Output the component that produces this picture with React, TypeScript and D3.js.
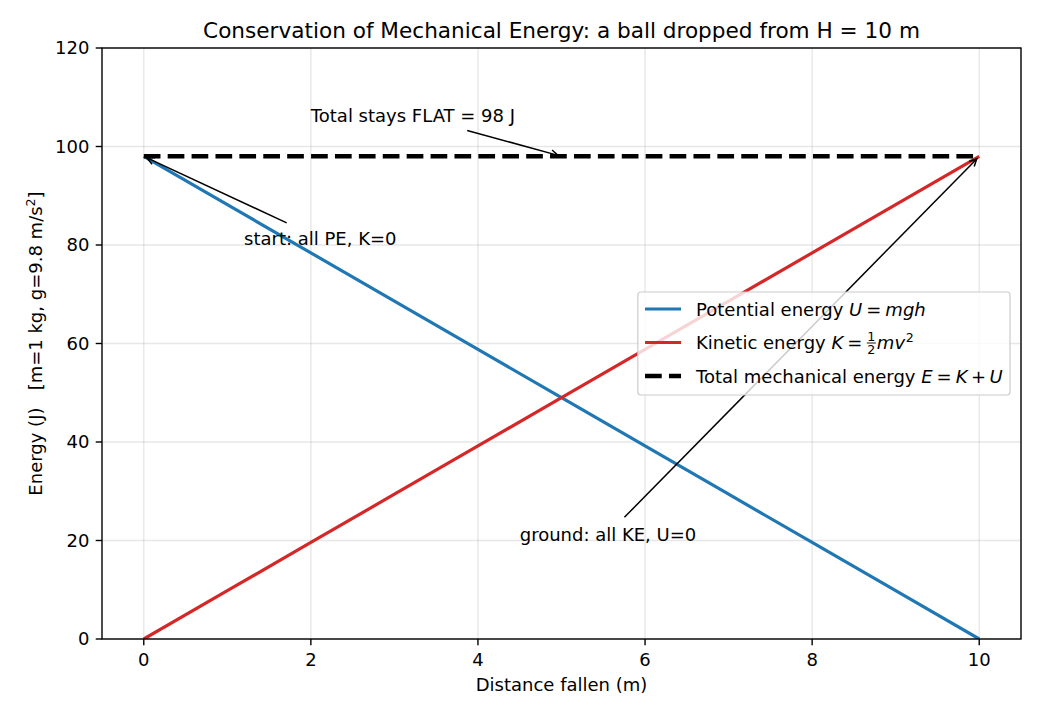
import { useEffect, useRef } from 'react';
import * as d3 from 'd3';

// distance fallen (m) and the energies at each point (J)
const distance = [0, 1, 2, 3, 4, 5, 6, 7, 8, 9, 10];
const potential = [98, 88.2, 78.4, 68.6, 58.8, 49, 39.2, 29.4, 19.6, 9.8, 0];
const kinetic = [0, 9.8, 19.6, 29.4, 39.2, 49, 58.8, 68.6, 78.4, 88.2, 98];
const total = [98, 98, 98, 98, 98, 98, 98, 98, 98, 98, 98];

const xTicks = [0, 2, 4, 6, 8, 10];
const yTicks = [0, 20, 40, 60, 80, 100, 120];

const notes = [
  { text: 'start: all PE, K=0', tx: 1.2, ty: 80, px: 0, py: 98 },
  { text: 'Total stays FLAT = 98 J', tx: 2, ty: 105, px: 5, py: 98 },
  { text: 'ground: all KE, U=0', tx: 4.5, ty: 20, px: 10, py: 98 },
];

// math pieces: gap = extra horizontal space in px
type Part = { t?: string; it?: boolean; frac?: [string, string]; sup?: string; gap?: number };

const legendItems: { color: string; dash?: string; width: number; parts: Part[] }[] = [
  { color: '#1f77b4', width: 3.2, parts: [{ t: 'Potential energy ' }, { t: 'U', it: true }, { gap: 4 }, { t: '=' }, { gap: 4 }, { t: 'mgh', it: true }] },
  { color: '#d62728', width: 3.2, parts: [{ t: 'Kinetic energy ' }, { t: 'K', it: true }, { gap: 4 }, { t: '=' }, { gap: 4 }, { frac: ['1', '2'] }, { t: 'mv', it: true }, { sup: '2' }] },
  { color: '#000000', width: 4.5, dash: '16.7,7.2', parts: [{ t: 'Total mechanical energy ' }, { t: 'E', it: true }, { gap: 4 }, { t: '=' }, { gap: 4 }, { t: 'K', it: true }, { gap: 3.5 }, { t: '+' }, { gap: 3.5 }, { t: 'U', it: true }] },
];

const W = 1040;
const H = 715;
const FONT = '"DejaVu Sans", sans-serif';
const FS = 18;

export default function App() {
  const ref = useRef<SVGSVGElement>(null);

  useEffect(() => {
    if (!ref.current) return;
    const svg = d3.select(ref.current);
    svg.selectAll('*').remove();

    const m = { left: 102, right: 1021, top: 48, bottom: 639 };
    const x = d3.scaleLinear().domain([-0.5, 10.5]).range([m.left, m.right]);
    const y = d3.scaleLinear().domain([0, 120]).range([m.bottom, m.top]);

    svg.append('rect').attr('width', W).attr('height', H).attr('fill', '#fff');

    // grid
    const grid = svg.append('g').attr('stroke', '#b0b0b0').attr('stroke-opacity', 0.3).attr('stroke-width', 1.4);
    xTicks.forEach(v => grid.append('line').attr('x1', x(v)).attr('x2', x(v)).attr('y1', m.top).attr('y2', m.bottom));
    yTicks.forEach(v => grid.append('line').attr('x1', m.left).attr('x2', m.right).attr('y1', y(v)).attr('y2', y(v)));

    const clip = svg.append('clipPath').attr('id', 'plot-clip');
    clip.append('rect').attr('x', m.left).attr('y', m.top).attr('width', m.right - m.left).attr('height', m.bottom - m.top);
    const plot = svg.append('g').attr('clip-path', 'url(#plot-clip)');

    const line = (vals: number[]) =>
      d3.line<number>().x((_, i) => x(distance[i])).y(d => y(d))(vals);

    plot.append('path').attr('d', line(potential)).attr('fill', 'none').attr('stroke', '#1f77b4').attr('stroke-width', 3.2);
    plot.append('path').attr('d', line(kinetic)).attr('fill', 'none').attr('stroke', '#d62728').attr('stroke-width', 3.2);
    plot.append('path').attr('d', line(total)).attr('fill', 'none').attr('stroke', '#000').attr('stroke-width', 4.5)
      .attr('stroke-dasharray', '16.7,7.2');

    // annotations with arrows
    notes.forEach(n => {
      const t = svg.append('text').attr('x', x(n.tx)).attr('y', y(n.ty))
        .attr('font-family', FONT).attr('font-size', FS).attr('fill', '#000').text(n.text);
      const bb = (t.node() as SVGTextElement).getBBox();
      const pad = 3.6;
      const cx = bb.x + bb.width / 2;
      const cy = bb.y + bb.height / 2;
      const ex = x(n.px);
      const ey = y(n.py);
      const dx = ex - cx;
      const dy = ey - cy;
      const len = Math.hypot(dx, dy);
      const ux = dx / len;
      const uy = dy / len;
      let s = Infinity;
      if (dx !== 0) s = Math.min(s, (bb.width / 2 + pad) / Math.abs(dx));
      if (dy !== 0) s = Math.min(s, (bb.height / 2 + pad) / Math.abs(dy));
      const sx = cx + dx * s + ux * 3.6;
      const sy = cy + dy * s + uy * 3.6;
      const tx = ex - ux * 3.6;
      const ty = ey - uy * 3.6;
      const a = svg.append('g').attr('stroke', '#000').attr('stroke-width', 1.5).attr('fill', 'none');
      a.append('line').attr('x1', sx).attr('y1', sy).attr('x2', tx).attr('y2', ty);
      const hl = 7.2;
      const hw = 3.6;
      const bx = tx - ux * hl;
      const by = ty - uy * hl;
      a.append('path').attr('d', `M${bx - uy * hw},${by + ux * hw}L${tx},${ty}L${bx + uy * hw},${by - ux * hw}`);
    });

    // frame
    svg.append('rect').attr('x', m.left).attr('y', m.top).attr('width', m.right - m.left).attr('height', m.bottom - m.top)
      .attr('fill', 'none').attr('stroke', '#000').attr('stroke-width', 1.4);

    // ticks
    const tick = 6.3;
    const ax = svg.append('g').attr('font-family', FONT).attr('font-size', FS).attr('fill', '#000');
    xTicks.forEach(v => {
      ax.append('line').attr('x1', x(v)).attr('x2', x(v)).attr('y1', m.bottom).attr('y2', m.bottom + tick).attr('stroke', '#000').attr('stroke-width', 1.4);
      ax.append('text').attr('x', x(v)).attr('y', 666).attr('text-anchor', 'middle').text(v);
    });
    yTicks.forEach(v => {
      ax.append('line').attr('x1', m.left - tick).attr('x2', m.left).attr('y1', y(v)).attr('y2', y(v)).attr('stroke', '#000').attr('stroke-width', 1.4);
      ax.append('text').attr('x', m.left - tick * 2).attr('y', y(v)).attr('dy', '0.36em').attr('text-anchor', 'end').text(v);
    });

    ax.append('text').attr('x', (m.left + m.right) / 2).attr('y', 691).attr('text-anchor', 'middle').text('Distance fallen (m)');

    const yl = ax.append('text').attr('transform', `translate(42,${(m.top + m.bottom) / 2}) rotate(-90)`).attr('text-anchor', 'middle');
    yl.append('tspan').text('Energy (J)\u00a0\u00a0\u00a0[m=1 kg, g=9.8 m/s');
    yl.append('tspan').attr('font-size', FS * 0.7).attr('dy', -7).text('2');
    yl.append('tspan').attr('dy', 7).text(']');

    svg.append('text').attr('x', (m.left + m.right) / 2).attr('y', 38).attr('text-anchor', 'middle')
      .attr('font-family', FONT).attr('font-size', 21.6).attr('fill', '#000')
      .text('Conservation of Mechanical Energy: a ball dropped from H = 10 m');

    // legend, anchored centre right
    const lg = svg.append('g');
    const box = lg.append('rect').attr('rx', 3).attr('fill', '#fff').attr('fill-opacity', 0.8).attr('stroke', '#cccccc').attr('stroke-width', 1.2);
    const rowH = 33.5;
    let maxW = 0;
    const rows = legendItems.map((it, i) => {
      const row = lg.append('g');
      const yy = i * rowH;
      row.append('line').attr('x1', 0).attr('x2', 36).attr('y1', yy).attr('y2', yy)
        .attr('stroke', it.color).attr('stroke-width', it.width).attr('stroke-dasharray', it.dash ?? null);
      let cx = 51;
      const tg = row.append('g').attr('font-family', FONT).attr('font-size', FS).attr('fill', '#000');
      const base = yy + 6.5;
      it.parts.forEach(p => {
        if (p.gap) {
          cx += p.gap;
        } else if (p.frac) {
          const fs = FS * 0.7;
          const bar = base - 6;
          const n1 = tg.append('text').attr('x', cx + 1).attr('y', bar - 2).attr('font-size', fs).text(p.frac[0]);
          const n2 = tg.append('text').attr('x', cx + 1).attr('y', bar + 10.5).attr('font-size', fs).text(p.frac[1]);
          const w = Math.max((n1.node() as SVGTextElement).getComputedTextLength(), (n2.node() as SVGTextElement).getComputedTextLength());
          tg.append('line').attr('x1', cx + 0.5).attr('x2', cx + w + 1.5).attr('y1', bar).attr('y2', bar)
            .attr('stroke', '#000').attr('stroke-width', 0.9);
          cx += w + 2.5;
        } else if (p.sup) {
          const s = tg.append('text').attr('x', cx + 0.8).attr('y', base - 7.5).attr('font-size', FS * 0.7).text(p.sup);
          cx += (s.node() as SVGTextElement).getComputedTextLength() + 0.8;
        } else {
          const s = tg.append('text').attr('x', cx).attr('y', base).attr('font-style', p.it ? 'italic' : null)
            .style('white-space', 'pre').text(p.t ?? '');
          cx += (s.node() as SVGTextElement).getComputedTextLength();
        }
      });
      maxW = Math.max(maxW, cx);
      return row;
    });
    const bw = maxW + 7.2 + 7.2;
    const bh = 103;
    const left = m.right - 11 - bw;
    const top = (m.top + m.bottom) / 2 - bh / 2;
    box.attr('x', left).attr('y', top).attr('width', bw).attr('height', bh);
    rows.forEach(r => r.attr('transform', `translate(${left + 7.2},${top + 17})`));
  }, []);

  return <svg ref={ref} width={W} height={H} style={{ position: 'absolute', left: 0, top: 0 }} />;
}
